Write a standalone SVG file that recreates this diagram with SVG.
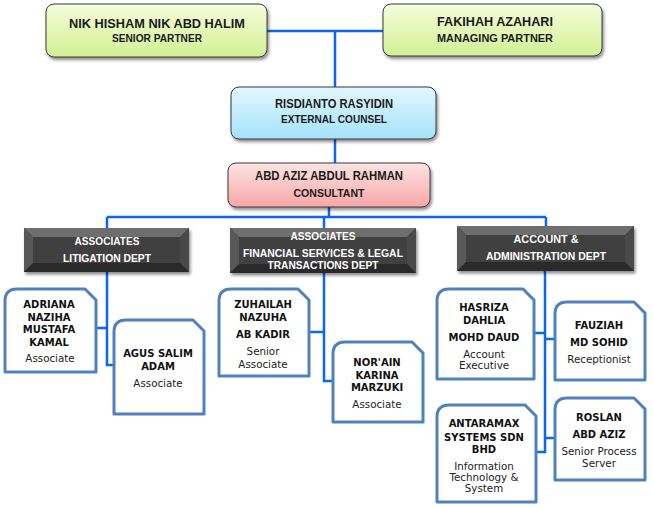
<svg xmlns="http://www.w3.org/2000/svg" width="653" height="509" viewBox="0 0 653 509">
<style>
.top{stroke:#3a3a3a;stroke-width:1}
.tt{font-family:"Liberation Sans",Arial,sans-serif;font-weight:bold;fill:#1a1a1a;text-anchor:middle}
.dt{font-family:"Liberation Sans",Arial,sans-serif;font-weight:bold;fill:#ffffff;text-anchor:middle;font-size:11px}
.pb{fill:#ffffff;stroke:#4f81bd;stroke-width:3;stroke-linejoin:round}
.pn{font-family:"DejaVu Sans",Verdana,sans-serif;font-weight:bold;fill:#111;text-anchor:middle;font-size:10px}
.pr{font-family:"DejaVu Sans",Verdana,sans-serif;fill:#222;text-anchor:middle;font-size:10.3px}
.con{fill:none;stroke:#0d66f0;stroke-width:2.5}
.bc{fill:#404040}
.bt{fill:#6e6e6e}
.bl{fill:#585858}
.br{fill:#4a4a4a}
.bb{fill:#2c2c2c}
</style>
<defs>
<linearGradient id="gGreen" x1="0" y1="0" x2="0" y2="1"><stop offset="0" stop-color="#f6fcdc"/><stop offset="1" stop-color="#d2f093"/></linearGradient>
<linearGradient id="gBlue" x1="0" y1="0" x2="0" y2="1"><stop offset="0" stop-color="#e2f7fe"/><stop offset="1" stop-color="#a4e2fa"/></linearGradient>
<linearGradient id="gPink" x1="0" y1="0" x2="0" y2="1"><stop offset="0" stop-color="#fde4e4"/><stop offset="1" stop-color="#f7a6a6"/></linearGradient>
<filter id="sh" x="-10%" y="-20%" width="130%" height="150%"><feDropShadow dx="1.5" dy="2.5" stdDeviation="1.5" flood-color="#000" flood-opacity="0.45"/></filter>
</defs>

<g id="connectors">
<path class="con" d="M267,31 H383 M335,31 V87"/>
<path class="con" d="M335,139 V163"/>
<path class="con" d="M329,207 V217 M107,217 H546 M107,217 V228 M324,217 V228 M546,217 V226"/>
<path class="con" d="M107,272 V365 H114 M96,328 H107"/>
<path class="con" d="M324,273 V381 H333 M309,332 H324"/>
<path class="con" d="M545,271 V452 H536 M534,333 H545 M545,339 H555 M545,438 H555"/>
</g>

<g id="nik">
<rect class="top" x="46" y="4" width="221" height="53" rx="8" fill="url(#gGreen)" filter="url(#sh)"/>
<text class="tt" x="157" y="28" font-size="13.5" textLength="176" lengthAdjust="spacingAndGlyphs">NIK HISHAM NIK ABD HALIM</text>
<text class="tt" x="157" y="42" font-size="11" textLength="90" lengthAdjust="spacingAndGlyphs">SENIOR PARTNER</text>
</g>

<g id="fakihah">
<rect class="top" x="383" y="4" width="219" height="52" rx="8" fill="url(#gGreen)" filter="url(#sh)"/>
<text class="tt" x="495" y="26" font-size="13.5" textLength="116" lengthAdjust="spacingAndGlyphs">FAKIHAH AZAHARI</text>
<text class="tt" x="495" y="42" font-size="11" textLength="116" lengthAdjust="spacingAndGlyphs">MANAGING PARTNER</text>
</g>

<g id="risdianto">
<rect class="top" x="231" y="87" width="205" height="52" rx="8" fill="url(#gBlue)" filter="url(#sh)"/>
<text class="tt" x="334" y="108" font-size="13" textLength="118" lengthAdjust="spacingAndGlyphs">RISDIANTO RASYIDIN</text>
<text class="tt" x="334" y="123" font-size="11" textLength="106" lengthAdjust="spacingAndGlyphs">EXTERNAL COUNSEL</text>
</g>

<g id="abdaziz">
<rect class="top" x="228" y="163" width="202" height="44" rx="8" fill="url(#gPink)" filter="url(#sh)"/>
<text class="tt" x="329" y="180" font-size="13" textLength="148" lengthAdjust="spacingAndGlyphs">ABD AZIZ ABDUL RAHMAN</text>
<text class="tt" x="329" y="197" font-size="11" textLength="71" lengthAdjust="spacingAndGlyphs">CONSULTANT</text>
</g>

<g id="dept-litigation">
<g filter="url(#sh)">
<rect class="bc" x="24" y="228" width="165" height="44"/>
<polygon class="bt" points="24,228 189,228 180,237 33,237"/>
<polygon class="bl" points="24,228 33,237 33,263 24,272"/>
<polygon class="br" points="189,228 180,237 180,263 189,272"/>
<polygon class="bb" points="24,272 189,272 180,263 33,263"/>
</g>
<text class="dt" x="107" y="245" textLength="65" lengthAdjust="spacingAndGlyphs">ASSOCIATES</text>
<text class="dt" x="107" y="262" textLength="88" lengthAdjust="spacingAndGlyphs">LITIGATION DEPT</text>
</g>

<g id="dept-financial">
<g filter="url(#sh)">
<rect class="bc" x="230" y="228" width="186" height="45"/>
<polygon class="bt" points="230,228 416,228 407,237 239,237"/>
<polygon class="bl" points="230,228 239,237 239,264 230,273"/>
<polygon class="br" points="416,228 407,237 407,264 416,273"/>
<polygon class="bb" points="230,273 416,273 407,264 239,264"/>
</g>
<text class="dt" x="323" y="240" textLength="65" lengthAdjust="spacingAndGlyphs">ASSOCIATES</text>
<text class="dt" x="323" y="257" textLength="160" lengthAdjust="spacingAndGlyphs">FINANCIAL SERVICES &amp; LEGAL</text>
<text class="dt" x="323" y="269" textLength="111" lengthAdjust="spacingAndGlyphs">TRANSACTIONS DEPT</text>
</g>

<g id="dept-account">
<g filter="url(#sh)">
<rect class="bc" x="457" y="226" width="177" height="45"/>
<polygon class="bt" points="457,226 634,226 625,235 466,235"/>
<polygon class="bl" points="457,226 466,235 466,262 457,271"/>
<polygon class="br" points="634,226 625,235 625,262 634,271"/>
<polygon class="bb" points="457,271 634,271 625,262 466,262"/>
</g>
<text class="dt" x="546" y="243" textLength="65" lengthAdjust="spacingAndGlyphs">ACCOUNT &amp;</text>
<text class="dt" x="546" y="260" textLength="120" lengthAdjust="spacingAndGlyphs">ADMINISTRATION DEPT</text>
</g>

<g id="adriana">
<path class="pb" d="M5,301 Q5,289 17,289 H85 L96,300 V372 H5 Z"/>
<text class="pn" x="49" y="308">ADRIANA</text>
<text class="pn" x="49" y="321">NAZIHA</text>
<text class="pn" x="49" y="333">MUSTAFA</text>
<text class="pn" x="49" y="346">KAMAL</text>
<text class="pr" x="50" y="362">Associate</text>
</g>

<g id="agus">
<path class="pb" d="M114,332 Q114,320 126,320 H193 L204,331 V414 H114 Z"/>
<text class="pn" x="158" y="357">AGUS SALIM</text>
<text class="pn" x="158" y="370">ADAM</text>
<text class="pr" x="158" y="387">Associate</text>
</g>

<g id="zuhailah">
<path class="pb" d="M219,301 Q219,289 231,289 H298 L309,300 V376 H219 Z"/>
<text class="pn" x="263" y="308">ZUHAILAH</text>
<text class="pn" x="263" y="321">NAZUHA</text>
<text class="pn" x="263" y="338">AB KADIR</text>
<text class="pr" x="263" y="355">Senior</text>
<text class="pr" x="263" y="368">Associate</text>
</g>

<g id="norain">
<path class="pb" d="M333,354 Q333,342 345,342 H412 L423,353 V422 H333 Z"/>
<text class="pn" x="377" y="366">NOR'AIN</text>
<text class="pn" x="377" y="379">KARINA</text>
<text class="pn" x="377" y="391">MARZUKI</text>
<text class="pr" x="377" y="408">Associate</text>
</g>

<g id="hasriza">
<path class="pb" d="M437,301 Q437,289 449,289 H523 L534,300 V379 H437 Z"/>
<text class="pn" x="484" y="311">HASRIZA</text>
<text class="pn" x="484" y="324">DAHLIA</text>
<text class="pn" x="484" y="341">MOHD DAUD</text>
<text class="pr" x="484" y="358">Account</text>
<text class="pr" x="484" y="369">Executive</text>
</g>

<g id="fauziah">
<path class="pb" d="M555,314 Q555,302 567,302 H634 L645,313 V380 H555 Z"/>
<text class="pn" x="599" y="329">FAUZIAH</text>
<text class="pn" x="599" y="346">MD SOHID</text>
<text class="pr" x="599" y="363">Receptionist</text>
</g>

<g id="antaramax">
<path class="pb" d="M437,417 Q437,405 449,405 H525 L536,416 V502 H437 Z"/>
<text class="pn" x="484" y="427">ANTARAMAX</text>
<text class="pn" x="484" y="441">SYSTEMS SDN</text>
<text class="pn" x="484" y="453">BHD</text>
<text class="pr" x="484" y="470">Information</text>
<text class="pr" x="484" y="481">Technology &amp;</text>
<text class="pr" x="484" y="492">System</text>
</g>

<g id="roslan">
<path class="pb" d="M555,410 Q555,398 567,398 H634 L645,409 V480 H555 Z"/>
<text class="pn" x="599" y="421">ROSLAN</text>
<text class="pn" x="599" y="438">ABD AZIZ</text>
<text class="pr" x="599" y="455">Senior Process</text>
<text class="pr" x="599" y="467">Server</text>
</g>
</svg>
